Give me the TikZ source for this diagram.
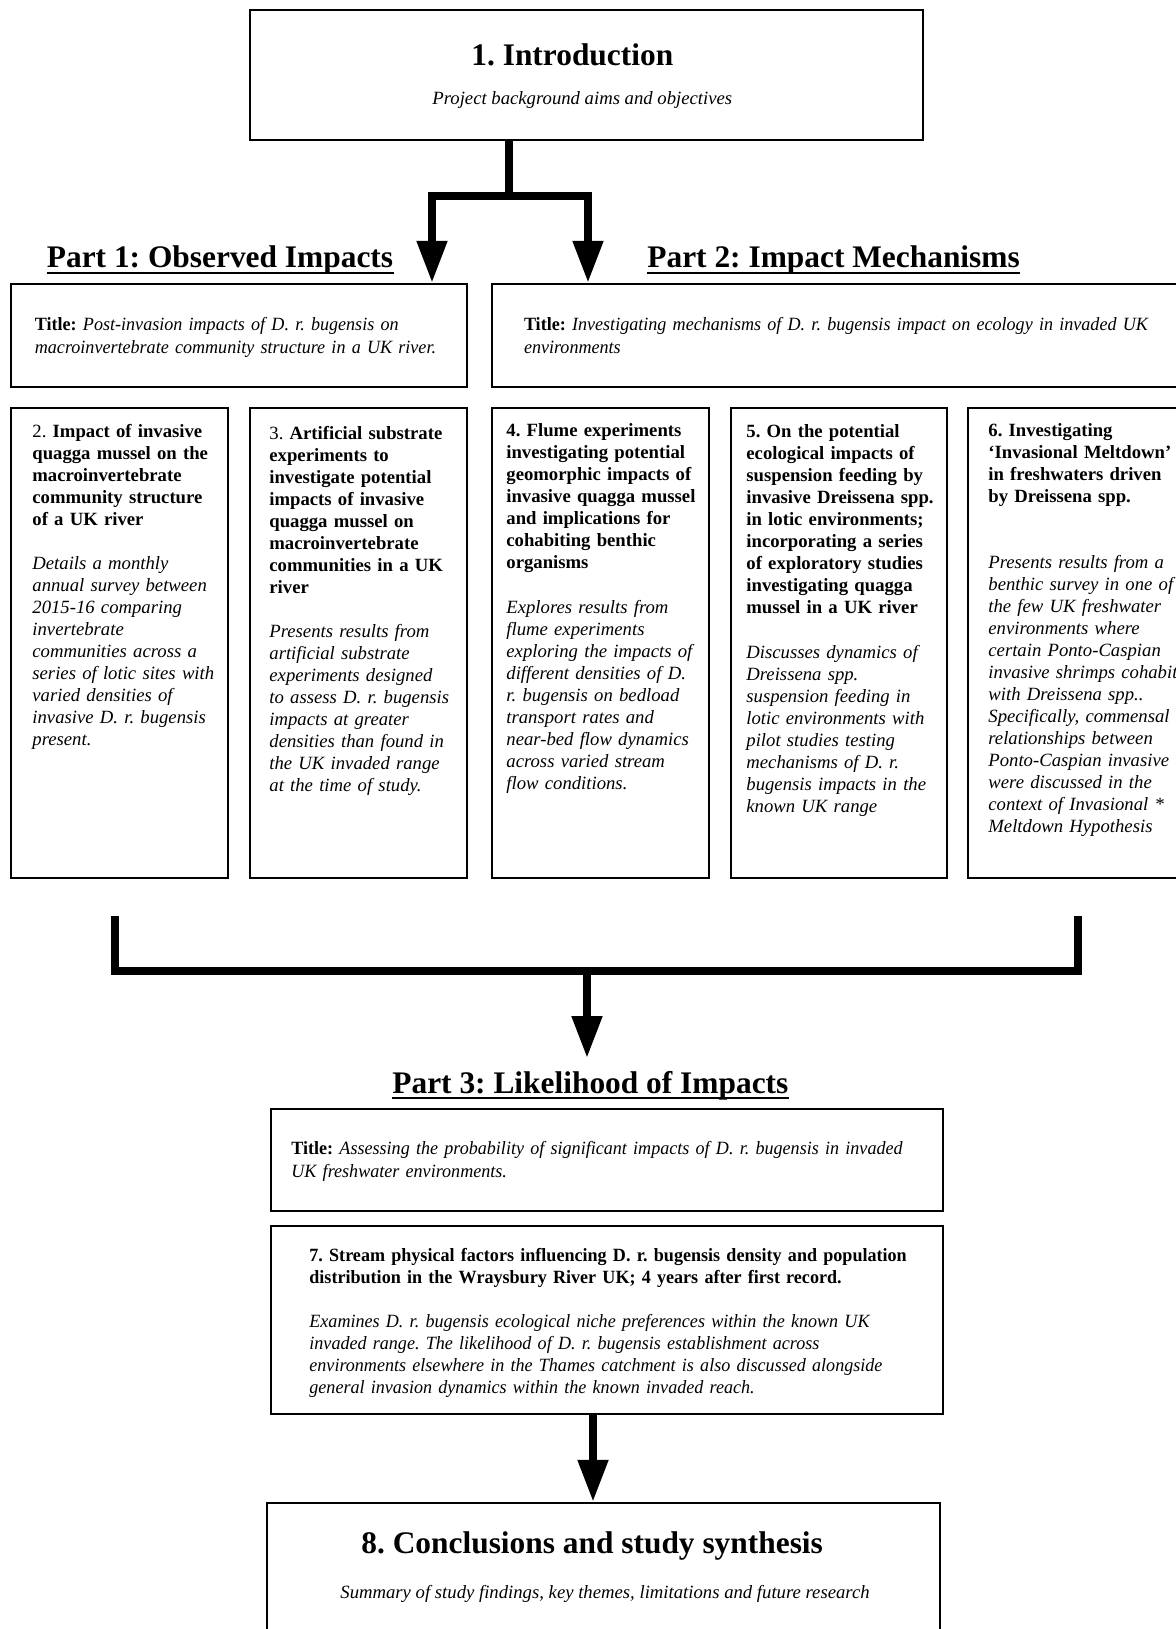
\documentclass[tikz,border=0pt]{standalone}
\usepackage{fontspec}
\setmainfont{Liberation Serif}
\newfontfamily\condserif[FakeStretch=0.967]{Liberation Serif}
\usetikzlibrary{arrows.meta,fit,calc}
\begin{document}
\frenchspacing
\begin{tikzpicture}[x=0.5pt,y=-0.5pt,
  box/.style={draw, line width=1.2pt, inner sep=0pt},
  tall/.style={anchor=base west, inner sep=0pt, align=left, text width=160pt},
  wide/.style={anchor=base west, inner sep=0pt, align=left, text width=340pt},
  fsb/.style={font=\fontsize{9.35}{11}\selectfont\bfseries},
  fsi/.style={font=\fontsize{9.35}{11}\selectfont\itshape},
  fsr/.style={font=\fontsize{9.35}{11.5}\selectfont},
  csb/.style={font=\condserif\fontsize{9.35}{11}\selectfont\bfseries},
  csi/.style={font=\condserif\fontsize{9.35}{11}\selectfont\itshape},
  csr/.style={font=\condserif\fontsize{9.35}{11.5}\selectfont},
  head/.style={anchor=base west, inner sep=0pt, font=\fontsize{15.7}{18}\selectfont\bfseries},
  ul/.style={line width=1pt},
  conn/.style={line width=4pt, line join=miter},
  tip/.style={-{Triangle[length=21pt,width=14.5pt]}},
]
\useasboundingbox (0,0) rectangle (1176,1629);
\clip (0,0) rectangle (1176,1629);

% ---------- boxes ----------
\node[box, fit={(250,10) (923,140)}] (intro) {};
\node[box, fit={(11,284) (467,387)}] (p1t) {};
\node[box, fit={(492,284) (1195,387)}] (p2t) {};
\node[box, fit={(11,408) (228,878)}] (b1) {};
\node[box, fit={(250,408) (467,878)}] (b2) {};
\node[box, fit={(492,408) (709,878)}] (b3) {};
\node[box, fit={(731,408) (947,878)}] (b4) {};
\node[box, fit={(968,408) (1195,878)}] (b5) {};
\node[box, fit={(271,1109) (943,1211)}] (p3t) {};
\node[box, fit={(271,1226) (943,1414)}] (b7) {};
\node[box, fit={(267,1503) (940,1645)}] (b8) {};

% ---------- intro ----------
\node[head] (introT) at (471,65) {1. Introduction};
\node[anchor=base west, inner sep=0pt, fsi] (introS) at (432,104) {Project background aims and objectives};

% ---------- headings ----------
\node[head] (h1) at (46.5,267) {Part 1: Observed Impacts};
\draw[ul] ([yshift=-3pt]h1.base west) -- ([yshift=-3pt]h1.base east);
\node[head] (h2) at (647,267) {Part 2: Impact Mechanisms};
\draw[ul] ([yshift=-3pt]h2.base west) -- ([yshift=-3pt]h2.base east);
\node[head] (h3) at (392,1093) {Part 3: Likelihood of Impacts};
\draw[ul] ([yshift=-2.7pt]h3.base west) -- ([yshift=-2.7pt]h3.base east);

% ---------- title boxes ----------
\node[wide, csr] (p1tt) at (34.5,330) {\textbf{Title:} \textit{Post-invasion impacts of D. r. bugensis on}\\\textit{macroinvertebrate community structure in a UK river.}};
\node[wide, csr] (p2tt) at (523.6,330) {\textbf{Title:} \textit{Investigating mechanisms of D. r. bugensis impact on ecology in invaded UK}\\\textit{environments}};
\node[wide, csr] (p3tt) at (291,1154) {\textbf{Title:} \textit{Assessing the probability of significant impacts of D. r. bugensis in invaded}\\\textit{UK freshwater environments.}};

% ---------- tall boxes ----------
\node[tall, fsb] (b1t) at (32,437) {\textnormal{2.} Impact of invasive\\quagga mussel on the\\macroinvertebrate\\community structure\\of a UK river};
\node[tall, fsi] (b1b) at (32,569) {Details a monthly\\annual survey between\\2015-16 comparing\\invertebrate\\communities across a\\series of lotic sites with\\varied densities of\\invasive D. r. bugensis\\present.};

\node[tall, fsb] (b2t) at (269,439) {\textnormal{3.} Artificial substrate\\experiments to\\investigate potential\\impacts of invasive\\quagga mussel on\\macroinvertebrate\\communities in a UK\\river};
\node[tall, fsi] (b2b) at (269,637) {Presents results from\\artificial substrate\\experiments designed\\to assess D. r. bugensis\\impacts at greater\\densities than found in\\the UK invaded range\\at the time of study.};

\node[tall, fsb] (b3t) at (506,436) {4. Flume experiments\\investigating potential\\geomorphic impacts of\\invasive quagga mussel\\and implications for\\cohabiting benthic\\organisms};
\node[tall, fsi] (b3b) at (506,613) {Explores results from\\flume experiments\\exploring the impacts of\\different densities of D.\\r. bugensis on bedload\\transport rates and\\near-bed flow dynamics\\across varied stream\\flow conditions.};

\node[tall, fsb] (b4t) at (746,437) {5. On the potential\\ecological impacts of\\suspension feeding by\\invasive Dreissena spp.\\in lotic environments;\\incorporating a series\\of exploratory studies\\investigating quagga\\mussel in a UK river};
\node[tall, fsi] (b4b) at (746,658) {Discusses dynamics of\\Dreissena spp.\\suspension feeding in\\lotic environments with\\pilot studies testing\\mechanisms of D. r.\\bugensis impacts in the\\known UK range};

\node[tall, fsb] (b5t) at (988,436) {6. Investigating\\‘Invasional Meltdown’\\in freshwaters driven\\by Dreissena spp.};
\node[tall, fsi] (b5b) at (988,568) {Presents results from a\\benthic survey in one of\\the few UK freshwater\\environments where\\certain Ponto-Caspian\\invasive shrimps cohabit\\with Dreissena spp..\\Specifically, commensal\\relationships between\\Ponto-Caspian invasive\\were discussed in the\\context of Invasional *\\Meltdown Hypothesis};

% ---------- part 3 ----------
\node[wide, csb] (b7t) at (309,1261) {7. Stream physical factors influencing D. r. bugensis density and population\\distribution in the Wraysbury River UK; 4 years after first record.};
\node[wide, csi] (b7b) at (309,1327) {Examines D. r. bugensis ecological niche preferences within the known UK\\invaded range. The likelihood of D. r. bugensis establishment across\\environments elsewhere in the Thames catchment is also discussed alongside\\general invasion dynamics within the known invaded reach.};

\node[head] (h8) at (361,1553) {8. Conclusions and study synthesis};
\node[anchor=base west, inner sep=0pt, fsi] (s8) at (340,1598) {Summary of study findings, key themes, limitations and future research};

% ---------- connectors ----------
\coordinate (s1) at (509,196);
\coordinate (sL) at (432,196);
\coordinate (sR) at (588,196);
\draw[conn] (intro.south -| s1) -- (s1);
\draw[conn, tip] (sL) -- (sL |- p1t.north);
\draw[conn, tip] (sR) -- (sR |- p2t.north);
\draw[conn] ([xshift=-2pt]sL) -- ([xshift=2pt]sR);

\coordinate (eL) at (115,916);
\coordinate (eR) at (1078,916);
\coordinate (jL) at (115,971);
\coordinate (jR) at (1078,971);
\coordinate (j) at (587,971);
\coordinate (t3) at (587,1058);
\draw[conn] (eL) -- (jL) -- (jR) -- (eR);
\draw[conn, tip] (j) -- (t3);

\coordinate (c7) at (593,1414);
\draw[conn, tip] (c7) -- (c7 |- b8.north);
\end{tikzpicture}
\end{document}
